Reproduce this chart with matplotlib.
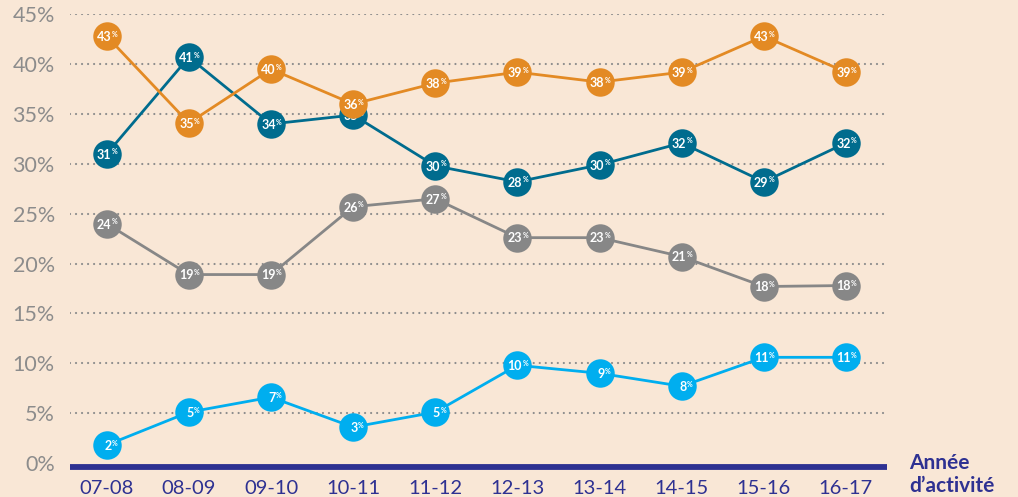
import matplotlib
matplotlib.use("Agg")
import matplotlib.pyplot as plt

BG = "#F9E7D6"
ORANGE = "#E38A24"
DARK = "#006C8E"
GRAY = "#878787"
LIGHT = "#00AEEF"
NAVY = "#2E3192"
TICK_GRAY = "#8C8C8C"

years = ["07-08", "08-09", "09-10", "10-11", "11-12",
         "12-13", "13-14", "14-15", "15-16", "16-17"]

orange_vals = [42.8, 34.1, 39.5, 36.0, 38.1, 39.2, 38.2, 39.2, 42.8, 39.2]
orange_lbls = ["43", "35", "40", "36", "38", "39", "38", "39", "43", "39"]
dark_vals = [31.0, 40.7, 34.0, 34.9, 29.8, 28.2, 29.9, 32.1, 28.2, 32.1]
dark_lbls = ["31", "41", "34", "35", "30", "28", "30", "32", "29", "32"]
gray_vals = [24.0, 18.9, 18.9, 25.7, 26.5, 22.6, 22.6, 20.7, 17.7, 17.8]
gray_lbls = ["24", "19", "19", "26", "27", "23", "23", "21", "18", "18"]
light_vals = [1.8, 5.1, 6.6, 3.6, 5.1, 9.8, 9.0, 7.7, 10.6, 10.6]
light_lbls = ["2", "5", "7", "3", "5", "10", "9", "8", "11", "11"]

yticks = [0, 5, 10, 15, 20, 25, 30, 35, 40, 45]

plt.rcParams["font.family"] = ["Lato", "DejaVu Sans"]

fig = plt.figure(figsize=(10.18, 4.97), dpi=100, facecolor=BG)
ax = fig.add_axes([0.0688, 0.0684, 0.8025, 0.9028], facecolor=BG)

x = list(range(len(years)))

# dotted grid lines (round dots)
for v in yticks[1:]:
    ax.axhline(v, color=TICK_GRAY, linewidth=1.6, linestyle=(0, (0.01, 2.7)),
               dash_capstyle="round", zorder=1)

series = [
    (gray_vals, gray_lbls, GRAY, 2),
    (light_vals, light_lbls, LIGHT, 3),
    (dark_vals, dark_lbls, DARK, 4),
    (orange_vals, orange_lbls, ORANGE, 5),
]
for vals, lbls, col, z in series:
    ax.plot(x, vals, color=col, linewidth=2.0, marker="o", markersize=20.5,
            markeredgewidth=0, zorder=z, clip_on=False)
    for xi, v, lb in zip(x, vals, lbls):
        ax.annotate(lb, (xi, v), xytext=(3.4, -0.6), textcoords="offset points",
                    ha="right", va="center", fontsize=9, fontweight="bold",
                    color="white", zorder=z + 0.5)
        ax.annotate("%", (xi, v), xytext=(3.6, 1.4), textcoords="offset points",
                    ha="left", va="center", fontsize=5, fontweight="bold",
                    color="white", zorder=z + 0.5)

ax.set_xlim(-0.447, 9.5)
ax.set_ylim(0, 45)
ax.set_yticks(yticks)
ax.set_yticklabels([f"{v}%" for v in yticks])
ax.set_xticks(x)
ax.set_xticklabels(years)
ax.tick_params(axis="y", length=0, pad=11, labelsize=15.5, labelcolor=TICK_GRAY)
ax.tick_params(axis="x", length=0, pad=9, labelsize=14.5, labelcolor=NAVY)

for sp in ("top", "right", "left"):
    ax.spines[sp].set_visible(False)
ax.spines["bottom"].set_color(NAVY)
ax.spines["bottom"].set_linewidth(4.2)
ax.spines["bottom"].set_position(("outward", 3))
ax.spines["bottom"].set_capstyle("butt")

fig.text(0.893, 0.046, "Année\nd\u2019activité", ha="left", va="center",
         fontsize=15, fontweight="bold", color=NAVY, linespacing=1.2)

fig.savefig("out.png", dpi=100, facecolor=BG)
